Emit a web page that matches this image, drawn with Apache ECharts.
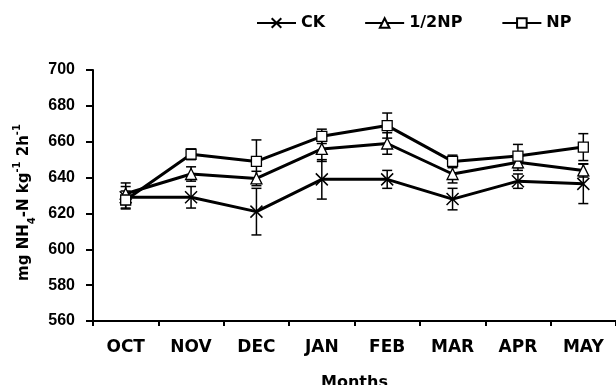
<!DOCTYPE html>
<html>
<head>
<meta charset="utf-8">
<script src="https://cdn.jsdelivr.net/npm/echarts@6/dist/echarts.min.js"></script>
<style>
  html, body { margin: 0; padding: 0; background: #fff; }
  #chart { width: 616px; height: 385px; }
</style>
</head>
<body>
<div id="chart"></div>
<script>
var months = ["OCT", "NOV", "DEC", "JAN", "FEB", "MAR", "APR", "MAY"];

// mean values
var ck = [629, 629, 621, 639, 639, 628, 638, 636.5];
var halfNp = [631, 642, 639.5, 656, 659, 642, 648.5, 644];
var np = [627.5, 653, 649, 663, 669, 649, 652, 657];

// +/- error
var ckErr = [6, 6, 13, 11, 5, 6, 4, 11];
var halfNpErr = [6, 4, 4, 7, 6, 5, 4.5, 3.7];
var npErr = [5, 3, 12, 4, 7, 3.5, 6.5, 7.5];

var yTicks = [560, 580, 600, 620, 640, 660, 680, 700];

var ARIAL = "Liberation Sans, Arial, sans-serif";
var WIDE = "DejaVu Sans, Verdana, sans-serif";
var crossPath = "path://M0,0L10,10M10,0L0,10";

function errData(vals, errs) {
  return vals.map(function (v, i) {
    return [i, v - errs[i], v + errs[i]];
  });
}

function errSeries(vals, errs) {
  return {
    type: "custom",
    silent: true,
    z: 1,
    data: errData(vals, errs),
    renderItem: function (params, api) {
      var lo = api.coord([api.value(0), api.value(1)]);
      var hi = api.coord([api.value(0), api.value(2)]);
      var w = 5;
      var st = { stroke: "#000", lineWidth: 1.5 };
      return {
        type: "group",
        children: [
          { type: "line", shape: { x1: lo[0], y1: lo[1], x2: hi[0], y2: hi[1] }, style: st },
          { type: "line", shape: { x1: lo[0] - w, y1: lo[1], x2: lo[0] + w, y2: lo[1] }, style: st },
          { type: "line", shape: { x1: hi[0] - w, y1: hi[1], x2: hi[0] + w, y2: hi[1] }, style: st }
        ]
      };
    }
  };
}

var chart = echarts.init(document.getElementById("chart"));

var option = {
  animation: false,
  backgroundColor: "#fff",
  textStyle: { fontFamily: WIDE },
  grid: { left: 93, right: 0, top: 70, bottom: 64, outerBoundsMode: "none" },
  legend: {
    left: 251,
    top: 10,
    itemWidth: 39,
    itemHeight: 12,
    itemGap: 39,
    textStyle: { fontFamily: WIDE, fontWeight: "bold", fontSize: 16, color: "#000" },
    data: ["CK", "1/2NP", "NP"]
  },
  xAxis: {
    type: "category",
    data: months,
    boundaryGap: true,
    name: "Months",
    nameLocation: "middle",
    nameGap: 54,
    nameTextStyle: { fontFamily: WIDE, fontWeight: "bold", fontSize: 16, color: "#000" },
    axisLine: { lineStyle: { color: "#000", width: 2 } },
    axisTick: { show: true, interval: 0, length: 5, lineStyle: { color: "#000", width: 2 } },
    axisLabel: { interval: 0, margin: 18, fontFamily: WIDE, fontWeight: "bold", fontSize: 17, color: "#000" },
    splitLine: { show: false }
  },
  yAxis: {
    type: "value",
    min: yTicks[0],
    max: yTicks[yTicks.length - 1],
    interval: 20,
    name: "{a|mg NH}{sub|4}{a|-N kg}{sup|-1}{a| 2h}{sup|-1}",
    nameLocation: "middle",
    nameRotate: 90,
    nameGap: 56,
    nameTextStyle: {
      color: "#000",
      fontFamily: WIDE,
      fontWeight: "bold",
      padding: [0, 14, 0, 0],
      rich: {
        a: { fontFamily: WIDE, fontWeight: "bold", fontSize: 15, color: "#000", lineHeight: 20, verticalAlign: "middle" },
        sub: { fontFamily: WIDE, fontWeight: "bold", fontSize: 10, color: "#000", lineHeight: 20, verticalAlign: "bottom", padding: [0, 0, -3, 0] },
        sup: { fontFamily: WIDE, fontWeight: "bold", fontSize: 10, color: "#000", lineHeight: 20, verticalAlign: "top", padding: [-2, 0, 0, 0] }
      }
    },
    axisLine: { show: true, lineStyle: { color: "#000", width: 2 } },
    axisTick: { show: true, length: 7, lineStyle: { color: "#000", width: 2 } },
    axisLabel: { margin: 18, fontFamily: ARIAL, fontWeight: "bold", fontSize: 16, color: "#000" },
    splitLine: { show: false }
  },
  series: [
    errSeries(ck, ckErr),
    errSeries(halfNp, halfNpErr),
    errSeries(np, npErr),
    {
      name: "CK",
      type: "line",
      data: ck,
      z: 3,
      symbol: crossPath,
      symbolSize: 12,
      lineStyle: { color: "#000", width: 3 },
      itemStyle: { color: "#fff", borderColor: "#000", borderWidth: 1.5 }
    },
    {
      name: "1/2NP",
      type: "line",
      data: halfNp,
      z: 3,
      symbol: "triangle",
      symbolSize: 11,
      lineStyle: { color: "#000", width: 3 },
      itemStyle: { color: "#fff", borderColor: "#000", borderWidth: 1.3 }
    },
    {
      name: "NP",
      type: "line",
      data: np,
      z: 3,
      symbol: "rect",
      symbolSize: 10,
      lineStyle: { color: "#000", width: 3 },
      itemStyle: { color: "#fff", borderColor: "#000", borderWidth: 1.3 }
    }
  ]
};

chart.setOption(option);
</script>
</body>
</html>
